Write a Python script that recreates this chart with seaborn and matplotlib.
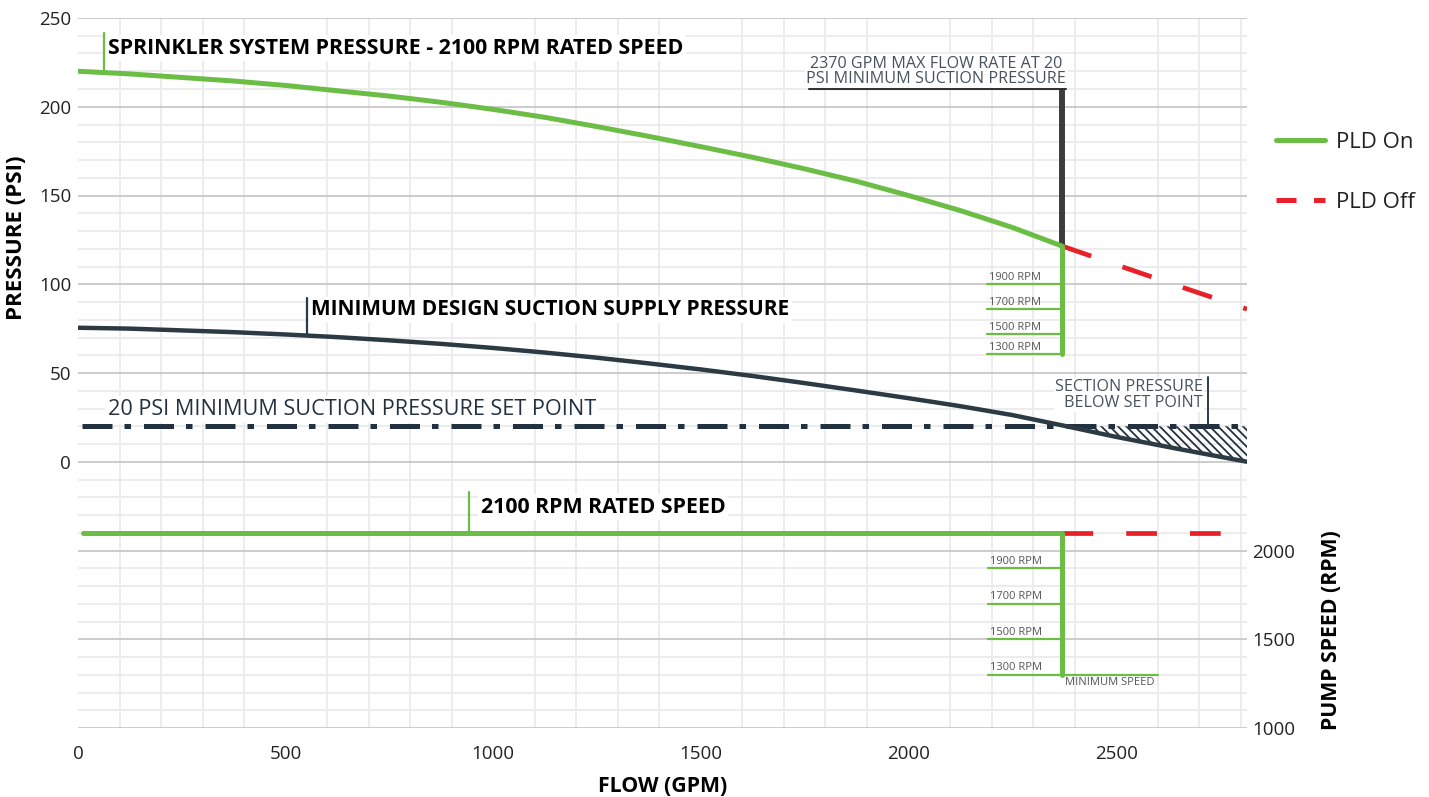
import numpy as np
import pandas as pd
import matplotlib.pyplot as plt
import seaborn as sns
from matplotlib.lines import Line2D
from matplotlib.ticker import MultipleLocator, FuncFormatter

# =========================
# Data
# =========================
flow_on = [0, 125, 250, 375, 500, 625, 750, 875, 1000, 1125, 1250, 1375,
           1500, 1625, 1750, 1875, 2000, 2125, 2250, 2370]
psi_on = [220, 218.5, 216.5, 214.5, 212, 209, 206, 202.5, 198.5, 194, 188.8, 183.3,
          177.5, 171.5, 165, 158, 150, 141.5, 132, 121.5]

flow_off = [2370, 2500, 2650, 2815]
psi_off = [121.5, 111, 99, 86]

flow_suction = [0, 125, 250, 375, 500, 625, 750, 875, 1000, 1125, 1250, 1375,
                1500, 1625, 1750, 1875, 2000, 2125, 2250, 2370, 2500, 2650, 2815]
psi_suction = [75.5, 75, 74, 73, 71.7, 70.2, 68.4, 66.4, 64.1, 61.5, 58.6, 55.4,
               52, 48.3, 44.3, 40.1, 35.8, 31.3, 26.3, 20.5, 14, 7.2, 0]

set_point = 20
max_flow = 2370
max_flow_psi = 210

rated_rpm = 2100
speed_flow_on = [12, 2370]
speed_flow_off = [2370, 2815]

reduced_rpm = [1900, 1700, 1500, 1300]
reduced_psi = [100, 86, 72, 60.5]
min_rpm = 1300

right_ticks = [1000, 1500, 2000]

# colours
GREEN = "#6cbd45"
RED = "#e8202a"
DARK = "#2c3a44"
NAVY = "#22313f"
TXT = "#46525e"

sns.set_theme(style="white")
plt.rcParams["font.family"] = ["Open Sans", "DejaVu Sans"]
plt.rcParams["hatch.linewidth"] = 1.3

fig = plt.figure(figsize=(14.29, 7.97), dpi=100)
ax = fig.add_axes([78 / 1429, 69 / 797, 1169 / 1429, 710 / 797])

# psi axis covers -150..250, rpm axis = 2500 + 10 * psi
ax.set_xlim(0, 2815)
ax.set_ylim(-150, 250)

ax.xaxis.set_major_locator(MultipleLocator(500))
ax.xaxis.set_minor_locator(MultipleLocator(100))
ax.yaxis.set_major_locator(MultipleLocator(50))
ax.yaxis.set_minor_locator(MultipleLocator(10))
ax.yaxis.set_major_formatter(FuncFormatter(lambda v, p: f"{v:.0f}" if v >= 0 else ""))

ax.grid(which="major", color="#c8c8c8", linewidth=1.3)
ax.grid(which="minor", color="#ebebeb", linewidth=1.3)
for t in ax.yaxis.get_major_ticks():
    if t.get_loc() in (-150, 250):
        t.gridline.set_visible(False)
for t in ax.xaxis.get_major_ticks():
    if t.get_loc() == 0:
        t.gridline.set_visible(False)

ax.tick_params(axis="both", which="both", length=0, labelsize=13.5, colors="#222222")
ax.tick_params(axis="x", pad=12)
ax.tick_params(axis="y", pad=5)
for s in ax.spines.values():
    s.set_visible(False)

# =========================
# Pressure curves
# =========================
sns.lineplot(x=flow_on, y=psi_on, ax=ax, color=GREEN, linewidth=3.6, zorder=5)
sns.lineplot(x=flow_off, y=psi_off, ax=ax, color=RED, linewidth=3.4, zorder=5)
ax.lines[-1].set_dashes((6.5, 7))
sns.lineplot(x=flow_suction, y=psi_suction, ax=ax, color=DARK, linewidth=3.2, zorder=5)

# set point line + hatched area below it
ax.plot([10, flow_suction[-1]], [set_point, set_point], color=NAVY, linewidth=3.6,
        dashes=(6, 2.4, 1.3, 2.6), zorder=4)
idx = flow_suction.index(max_flow)
ax.fill_between(flow_suction[idx:], psi_suction[idx:], set_point, facecolor="none",
                edgecolor=NAVY, hatch="\\\\\\\\", linewidth=0, zorder=3)

# max flow marker
ax.plot([max_flow, max_flow], [psi_on[-1], max_flow_psi], color="#3c3c3c", linewidth=4.3, zorder=4)
ax.plot([1761, max_flow + 8], [max_flow_psi, max_flow_psi], color="#333333", linewidth=1.5, zorder=4)
ax.text(2067, 220, "2370 GPM MAX FLOW RATE AT 20\nPSI MINIMUM SUCTION PRESSURE", ha="center",
        va="center", fontsize=11.6, color=TXT, linespacing=0.95,
        bbox=dict(facecolor="white", edgecolor="none", pad=1), zorder=6)

# reduced speed steps on the pressure side
ax.plot([max_flow, max_flow], [psi_on[-1], reduced_psi[-1]], color=GREEN, linewidth=3.6, zorder=6)
for rpm, p in zip(reduced_rpm, reduced_psi):
    ax.plot([2190, max_flow], [p, p], color=GREEN, linewidth=1.6, zorder=6)
    ax.text(2193, p + 0.8, f"{rpm} RPM", fontsize=8, color="#555555",
            va="bottom", ha="left", zorder=6)

# curve labels
ax.plot([62, 62], [219.5, 241.5], color=GREEN, linewidth=1.6, zorder=7)
ax.text(72, 233, "SPRINKLER SYSTEM PRESSURE - 2100 RPM RATED SPEED", fontsize=15.4,
        fontweight="bold", color="black", va="center", ha="left",
        bbox=dict(facecolor="white", edgecolor="none", pad=2), zorder=6)

ax.plot([551, 551], [72, 92], color=DARK, linewidth=1.6, zorder=7)
ax.text(562, 85.5, "MINIMUM DESIGN SUCTION SUPPLY PRESSURE", fontsize=15,
        fontweight="bold", color="black", va="center", ha="left",
        bbox=dict(facecolor="white", edgecolor="none", pad=2), zorder=6)

ax.text(72, 29.5, "20 PSI MINIMUM SUCTION PRESSURE SET POINT", fontsize=15.6,
        color=NAVY, va="center", ha="left",
        bbox=dict(facecolor="white", edgecolor="none", pad=2), zorder=6)

ax.plot([2721, 2721], [set_point, 48], color=DARK, linewidth=1.4, zorder=7)
ax.text(2709, 37.6, "SECTION PRESSURE\nBELOW SET POINT", fontsize=11.6,
        color=TXT, ha="right", va="center", linespacing=0.95,
        bbox=dict(facecolor="white", edgecolor="none", pad=1), zorder=6)

# =========================
# Pump speed (right axis)
# =========================
ax2 = ax.twinx()
ax2.set_ylim(1000, 5000)
ax2.set_yticks(right_ticks)
ax2.grid(False)
for s in ax2.spines.values():
    s.set_visible(False)
ax2.tick_params(axis="y", length=0, labelsize=13.5, colors="#222222", pad=4)

sns.lineplot(x=speed_flow_on, y=[rated_rpm, rated_rpm], ax=ax2, color=GREEN, linewidth=3.6, zorder=5)
sns.lineplot(x=speed_flow_off, y=[rated_rpm, rated_rpm], ax=ax2, color=RED, linewidth=3.4, zorder=5)
ax2.lines[-1].set_dashes((6.5, 7))

ax2.plot([max_flow, max_flow], [rated_rpm, min_rpm], color=GREEN, linewidth=3.6, zorder=6)
for rpm in reduced_rpm:
    x_end = 2600 if rpm == min_rpm else max_flow
    ax2.plot([2192, x_end], [rpm, rpm], color=GREEN, linewidth=1.6, zorder=6)
    ax2.text(2197, rpm + 8, f"{rpm} RPM", fontsize=8, color="#555555",
             va="bottom", ha="left", zorder=6)
ax2.text(2377, min_rpm - 45, "MINIMUM SPEED", fontsize=8, color="#555555",
         va="center", ha="left", zorder=6)

ax2.plot([941, 941], [rated_rpm, 2330], color=GREEN, linewidth=1.6, zorder=7)
ax2.text(970, 2245, "2100 RPM RATED SPEED", fontsize=15.4, fontweight="bold", color="black",
         va="center", ha="left", bbox=dict(facecolor="white", edgecolor="none", pad=2), zorder=6)

# =========================
# Axis labels and legend
# =========================
ax.set_xlabel("FLOW (GPM)", fontsize=15.3, fontweight="bold", color="black")
ax.xaxis.set_label_coords(0.5, -0.067)
ax.set_ylabel("PRESSURE (PSI)", fontsize=16, fontweight="bold", color="black")
ax.yaxis.set_label_coords(-0.044, 0.69)
ax2.set_ylabel("PUMP SPEED (RPM)", fontsize=15.3, fontweight="bold", color="black")
ax2.yaxis.set_label_coords(1.063, 0.138)

handles = [
    Line2D([0], [0], color=GREEN, linewidth=3.6),
    Line2D([0], [0], color=RED, linewidth=3.6, dashes=(4, 3.5)),
]
fig.legend(handles, ["PLD On", "PLD Off"], loc="upper left",
           bbox_to_anchor=(1256 / 1429, 1 - 112 / 797), frameon=False, fontsize=16,
           handlelength=2.2, handletextpad=0.5, labelspacing=1.75, labelcolor="#222222")

fig.savefig("out.png", dpi=100, facecolor="white")
